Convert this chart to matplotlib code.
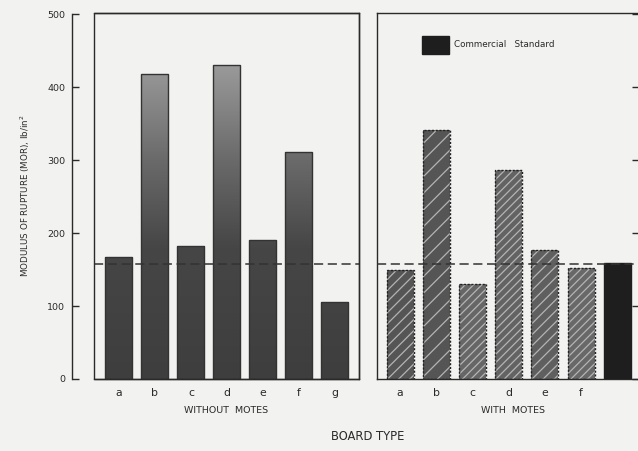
import numpy as np
import matplotlib
matplotlib.use("Agg")
import matplotlib.pyplot as plt
from matplotlib.patches import Rectangle, Patch
from matplotlib.colors import LinearSegmentedColormap

# ---- data ----
without_labels = ["a", "b", "c", "d", "e", "f", "g"]
without_values = [167, 418, 183, 431, 190, 311, 105]
with_labels = ["a", "b", "c", "d", "e", "f", ""]
with_values = [149, 341, 130, 286, 177, 152]
commercial_value = 159
standard_line = 158
yticks = [0, 100, 200, 300, 400, 500]

BG = "#f2f2f0"
W, H = 638, 451
fig = plt.figure(figsize=(W / 100, H / 100), dpi=100, facecolor=BG)
plt.rcParams["hatch.linewidth"] = 0.9
FS = 6.8
INK = "#2a2a2a"


def px_axes(x0, y0, x1, y1):
    return fig.add_axes([x0 / W, 1 - y1 / H, (x1 - x0) / W, (y1 - y0) / H])


ax1 = px_axes(94, 13, 359, 379)
ax2 = px_axes(377, 13, 639, 379)

ymax = 502
for ax in (ax1, ax2):
    ax.set_facecolor(BG)
    ax.set_ylim(0, ymax)
    for s in ax.spines.values():
        s.set_color(INK)
        s.set_linewidth(1.0)

ax1.set_xlim(-0.694, 6.667)
ax2.set_xlim(-0.64, 6.6)

# gradient colormap for left panel bars (dark at bottom, lighter higher up)
cmap = LinearSegmentedColormap.from_list(
    "g", [(0.0, "#3e3e3e"), (0.36, "#464646"), (0.6, "#6a6a6a"), (0.86, "#9a9a9a"), (1.0, "#a4a4a4")])
grad = np.linspace(0, 1, 256).reshape(-1, 1)

x1 = np.arange(len(without_values))
bars1 = ax1.bar(x1, without_values, width=0.75, color="none", edgecolor="#333333", linewidth=1.0, zorder=3)
for b in bars1:
    im = ax1.imshow(grad, cmap=cmap, vmin=0, vmax=1, aspect="auto", origin="lower",
                    extent=(b.get_x(), b.get_x() + b.get_width(), 0, 500), zorder=2)
    im.set_clip_path(b)
ax1.set_xlim(-0.694, 6.667)
ax1.set_ylim(0, ymax)

# right panel hatched bars
x2 = np.arange(len(with_values))
hatches = ["///", "//", "////", "////", "///", "////"]
faces = ["#555555", "#555555", "#666666", "#636363", "#5f5f5f", "#686868"]
for xi, v, h, fc in zip(x2, with_values, hatches, faces):
    ax2.bar(xi, v, width=0.75, color=fc, edgecolor="#b4b4b4", hatch=h, linewidth=0, zorder=2)
ax2.bar(x2, with_values, width=0.75, color="none", edgecolor="#222222", linewidth=1.0,
        linestyle=(0, (1.5, 1.2)), zorder=3)
ax2.bar([len(with_values)], [commercial_value], width=0.75, color="#1e1e1e",
        edgecolor="#1e1e1e", linewidth=1.0, zorder=3)

# commercial standard dashed line
for ax in (ax1, ax2):
    ax.axhline(standard_line, color="#333333", linewidth=1.1, linestyle=(0, (6, 3)), zorder=4)

# ticks
ax1.set_xticks(x1)
ax1.set_xticklabels(without_labels)
ax2.set_xticks(np.arange(len(with_labels)))
ax2.set_xticklabels(with_labels)
for ax in (ax1, ax2):
    ax.tick_params(axis="x", length=0, pad=6.5, labelsize=FS + 1, colors=INK)

ax1.spines["left"].set_position(("outward", 22 * 0.72))
ax1.spines["left"].set_bounds(0, 500)
ax1.add_patch(Rectangle((0, 0), 1, 1, transform=ax1.transAxes, fill=False,
                        edgecolor=INK, linewidth=1.0, clip_on=False, zorder=5))
ax1.set_yticks(yticks)
ax1.tick_params(axis="y", direction="in", length=5, width=1.0, pad=5, labelsize=FS, colors=INK)
ax1.set_ylabel("MODULUS OF RUPTURE (MOR), lb/in$^2$", fontsize=FS - 0.5, color=INK, labelpad=11)

ax2.set_yticks(yticks)
ax2.yaxis.tick_right()
ax2.tick_params(axis="y", direction="in", length=5, width=1.0, labelright=False, colors=INK)

# group labels
ax1.text(0.5, -0.085, "WITHOUT  MOTES", transform=ax1.transAxes, ha="center", va="center",
         fontsize=FS, color=INK)
ax2.text(0.52, -0.085, "WITH  MOTES", transform=ax2.transAxes, ha="center", va="center",
         fontsize=FS, color=INK)
fig.text(368 / W, 1 - 437 / H, "BOARD TYPE", ha="center", va="center", fontsize=FS + 1.5, color=INK)

# legend
leg = ax2.legend(handles=[Patch(facecolor="#1e1e1e", edgecolor="#1e1e1e", label="Commercial   Standard")],
                 loc="upper left", bbox_to_anchor=(0.172, 0.937), frameon=False, fontsize=FS - 0.5,
                 handlelength=3.1, handleheight=2.7, handletextpad=0.6, borderpad=0, borderaxespad=0)
for t in leg.get_texts():
    t.set_color(INK)

fig.savefig("out.png", dpi=100, facecolor=BG)
